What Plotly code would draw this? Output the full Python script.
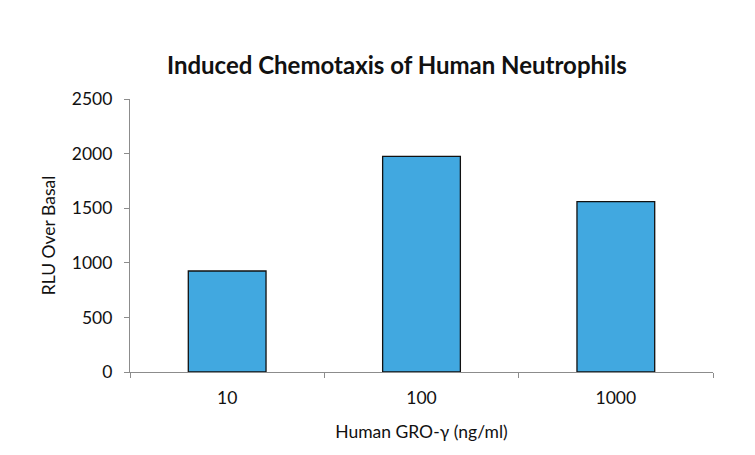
import plotly.graph_objects as go

# Données
doses = ["10", "100", "1000"]
rlu_over_basal = [925, 1975, 1560]
y_ticks = [0, 500, 1000, 1500, 2000, 2500]

fig = go.Figure(go.Bar(
    x=doses,
    y=rlu_over_basal,
    marker=dict(color="#41a8e0", line=dict(color="#111111", width=1.3)),
    width=0.4,
))

axis_font = dict(family="Lato", size=17.5, color="#111111")

# la page ajoute 8px de marge au body : on compense dans les marges
fig.update_layout(
    width=755,
    height=455,
    paper_bgcolor="white",
    plot_bgcolor="white",
    margin=dict(l=122, r=50, t=91, b=91),
    showlegend=False,
    title=dict(
        text="<b>Induced Chemotaxis of Human Neutrophils</b>",
        x=0.515, xref="container", xanchor="center",
        y=0.874, yref="container", yanchor="middle",
        font=dict(family="Lato", size=24, color="#111111"),
    ),
    font=axis_font,
)

fig.update_xaxes(
    type="category",
    showline=True, linecolor="#8c8c8c", linewidth=1.2,
    ticks="outside", tickson="boundaries", ticklen=5, tickcolor="#8c8c8c",
    ticklabelstandoff=10,
    showgrid=False,
    tickfont=axis_font,
    title=dict(text="Human GRO-γ (ng/ml)", font=axis_font, standoff=18),
)

fig.update_yaxes(
    range=[0, 2500],
    tickvals=y_ticks,
    showline=True, linecolor="#8c8c8c", linewidth=1.2,
    ticks="outside", ticklen=5, tickcolor="#8c8c8c",
    ticklabelstandoff=8,
    showgrid=False, zeroline=False,
    tickfont=axis_font,
    title=dict(text="RLU Over Basal", font=axis_font, standoff=11),
)

fig.write_html("out.html")
